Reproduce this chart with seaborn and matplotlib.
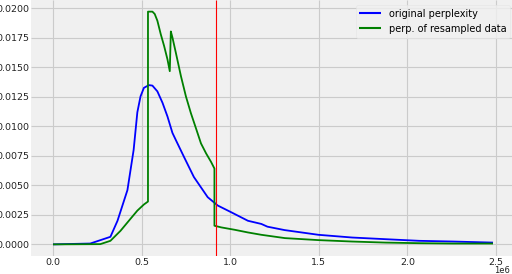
import pandas as pd
import seaborn as sns
import matplotlib.pyplot as plt

# values (x in units of 1e6)
orig_x = [0.0, 0.21, 0.324, 0.364, 0.42, 0.455, 0.476, 0.494, 0.513, 0.541, 0.561,
          0.589, 0.618, 0.646, 0.674, 0.693, 0.739, 0.795, 0.873, 0.930, 1.006,
          1.10, 1.176, 1.21, 1.307, 1.498, 1.688, 1.875, 2.066, 2.256, 2.483]
orig_y = [0.0, 0.00007, 0.00064, 0.0020, 0.0046, 0.0080, 0.0112, 0.01255, 0.01327,
          0.01350, 0.01346, 0.01297, 0.0120, 0.01084, 0.00945, 0.00885, 0.00742,
          0.00571, 0.0040, 0.00329, 0.00272, 0.0020, 0.00173, 0.0015, 0.00121,
          0.00081, 0.00058, 0.00044, 0.0003, 0.00024, 0.00015]

res_x = [0.0, 0.267, 0.324, 0.381, 0.438, 0.476, 0.513, 0.536, 0.536, 0.561, 0.574,
         0.589, 0.608, 0.627, 0.646, 0.659, 0.665, 0.674, 0.693, 0.722, 0.750,
         0.778, 0.807, 0.835, 0.864, 0.892, 0.911, 0.911, 0.949, 1.024, 1.10,
         1.176, 1.309, 1.498, 1.688, 1.876, 2.066, 2.256, 2.483]
res_y = [0.0, 0.00002, 0.0003, 0.00115, 0.00218, 0.00286, 0.00338, 0.00363, 0.01973,
         0.01973, 0.01953, 0.01896, 0.01782, 0.01682, 0.01568, 0.01468, 0.01805,
         0.01754, 0.01626, 0.01426, 0.01255, 0.01113, 0.00983, 0.00856, 0.00771,
         0.00699, 0.00643, 0.00158, 0.00144, 0.00124, 0.00101, 0.00081, 0.00053,
         0.00036, 0.00024, 0.00015, 0.0001, 0.00007, 0.00007]

threshold = 0.920

df_orig = pd.DataFrame({"x": [v * 1e6 for v in orig_x], "y": orig_y})
df_res = pd.DataFrame({"x": [v * 1e6 for v in res_x], "y": res_y})

plt.style.use("fivethirtyeight")
plt.rcParams["font.family"] = ["DejaVu Sans"]
plt.rcParams["font.size"] = 7

fig = plt.figure(figsize=(5.12, 2.74), dpi=100, facecolor="white")
ax = fig.add_axes([31 / 512, 18 / 274, 484 / 512, 256 / 274])
ax.set_facecolor("#f0f0f0")

sns.lineplot(data=df_orig, x="x", y="y", ax=ax, color="#0000ff", lw=1.3,
             estimator=None, sort=False, label="original perplexity")
sns.lineplot(data=df_res, x="x", y="y", ax=ax, color="#008000", lw=1.3,
             estimator=None, sort=False, label="perp. of resampled data")
ax.axvline(threshold * 1e6, color="red", lw=0.8)

ax.grid(True, color="#cbcbcb", lw=0.8)
ax.set_xlabel("")
ax.set_ylabel("")
ax.tick_params(labelsize=6.8, length=0, pad=1.2, labelcolor="#222222")
# keep the "1e6" offset inside the figure
off = ax.xaxis.get_offset_text()
off.set_fontsize(6)
off.set_verticalalignment("center")
off.set_horizontalalignment("right")
off.set_x((510 - 31) / 484)
for s in ax.spines.values():
    s.set_visible(False)

leg = ax.legend(loc="upper right", fontsize=7, handlelength=2.2, frameon=True,
                facecolor="#f0f0f0", edgecolor="#e4e4e4", borderaxespad=0.5)
for line in leg.get_lines():
    line.set_linewidth(1.5)

fig.savefig("out.png", dpi=100, facecolor="white")
